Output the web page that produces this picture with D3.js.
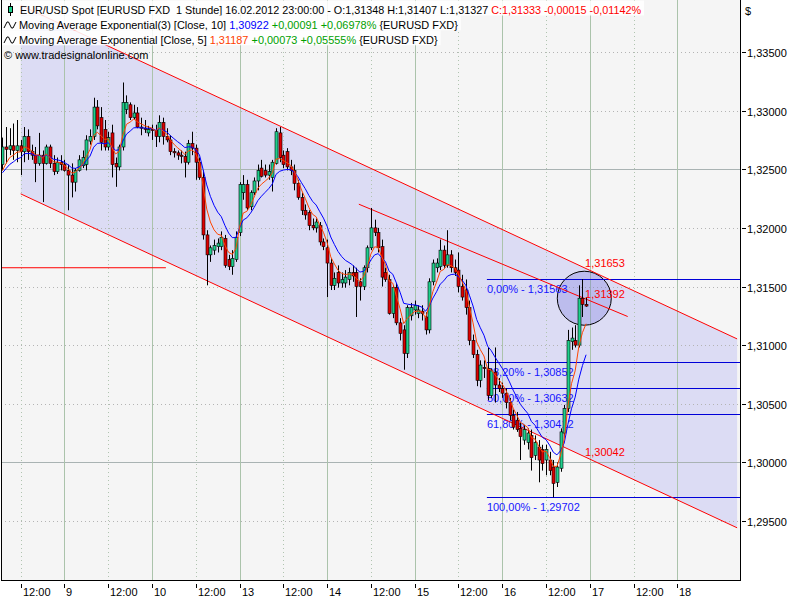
<!DOCTYPE html>
<html><head><meta charset="utf-8">
<script src="https://cdn.jsdelivr.net/npm/d3@7/dist/d3.min.js"></script>
<style>
html,body{margin:0;padding:0;background:#fff;}
svg{display:block;}
svg text{font-family:"Liberation Sans",Arial,sans-serif;font-size:11px;white-space:pre;}
</style></head><body>
<svg id="chart" width="800" height="600"></svg>
<script>
// ---------- DATA ----------
// hourly bars; bar k is at trading hour (firstHour + k), hour 0 = 08.02.2012 00:00
const firstHour = 7;
const open = [
 1.3254,1.3269,1.3267,1.3270,1.3266,1.3270,1.3265,1.3278,1.3265,1.3262,1.3255,1.3262,1.3255,1.3269,1.3255,1.3248,1.3256,
 1.3254,1.3249,1.3245,1.3239,1.3249,1.3253,1.3254,1.3274,1.3278,1.3303,1.3294,1.3284,1.3269,1.3281,1.3255,1.3252,1.3269,1.3301,1.3305,1.3294,1.3298,1.3286,1.3285,1.3281,
 1.3284,1.3283,1.3278,1.3290,1.3278,1.3275,1.3265,1.3264,1.3262,1.3261,1.3256,1.3272,1.3268,1.3256,1.3243,1.3194,1.3177,1.3181,1.3184,1.3184,1.3191,1.3173,1.3167,1.3173,
 1.3196,1.3230,1.3237,1.3218,1.3230,1.3240,1.3251,1.3249,1.3245,1.3243,1.3255,1.3281,1.3262,1.3265,1.3252,1.3249,1.3238,1.3226,1.3215,1.3213,1.3202,1.3200,1.3202,1.3188,
 1.3183,1.3170,1.3151,1.3162,1.3153,1.3153,1.3156,1.3162,1.3162,1.3154,1.3150,1.3166,1.3183,1.3200,1.3196,1.3184,1.3162,1.3156,1.3127,1.3149,1.3119,1.3113,1.3093,1.3125,
 1.3130,1.3127,1.3129,1.3124,1.3113,1.3154,1.3166,1.3167,1.3181,1.3168,1.3177,1.3166,1.3164,1.3150,1.3147,1.3132,1.3104,1.3092,1.3070,1.3081,1.3080,1.3057,1.3077,1.3066,
 1.3063,1.3059,1.3051,1.3040,1.3036,1.3029,1.3019,1.3017,1.3023,1.3006,1.3013,1.3011,1.3002,1.3002,1.2996,1.2983,1.2995,1.3025,1.3046,1.3103,1.3104,1.3100,1.3140,1.31348
];
const high = [
 1.3277,1.3286,1.3285,1.3289,1.3292,1.3275,1.3286,1.3284,1.3271,1.3269,1.3281,1.3266,1.3271,1.3271,1.3262,1.3260,1.3262,
 1.3258,1.3254,1.3255,1.3251,1.3262,1.3266,1.3279,1.3284,1.3311,1.3309,1.3303,1.3292,1.3282,1.3288,1.3260,1.3271,1.3324,1.3313,1.3307,1.3305,1.3303,1.3294,1.3292,1.3287,
 1.3288,1.3288,1.3296,1.3294,1.3285,1.3279,1.3268,1.3266,1.3266,1.3265,1.3275,1.3282,1.3271,1.3260,1.3249,1.3198,1.3185,1.3190,1.3191,1.3197,1.3194,1.3177,1.3181,1.3197,
 1.3239,1.3245,1.3241,1.3232,1.3243,1.3254,1.3258,1.3254,1.3254,1.3258,1.3285,1.3286,1.3266,1.3268,1.3258,1.3254,1.3241,1.3230,1.3220,1.3215,1.3208,1.3208,1.3205,1.3191,
 1.3190,1.3174,1.3162,1.3168,1.3162,1.3164,1.3166,1.3168,1.3166,1.3157,1.3168,1.3185,1.3217,1.3207,1.3200,1.3190,1.3166,1.3160,1.3151,1.3153,1.3123,1.3117,1.3134,1.3136,
 1.3138,1.3134,1.3134,1.3128,1.3157,1.3173,1.3174,1.3190,1.3185,1.3198,1.3181,1.3173,1.3179,1.3160,1.3156,1.3138,1.3109,1.3096,1.3087,1.3087,1.3098,1.3080,1.3098,1.3072,
 1.3068,1.3063,1.3055,1.3045,1.3043,1.3034,1.3032,1.3029,1.3028,1.3023,1.3019,1.3015,1.3015,1.3009,1.3002,1.3000,1.3029,1.3049,1.3113,1.3115,1.3117,1.3151,1.31563,1.31407
];
const low = [
 1.3249,1.3255,1.3262,1.3258,1.3256,1.3245,1.3256,1.3258,1.3258,1.3239,1.3253,1.3222,1.3254,1.3251,1.3245,1.3246,1.3249,
 1.3248,1.3215,1.3226,1.3231,1.3248,1.3251,1.3249,1.3271,1.3275,1.3284,1.3266,1.3266,1.3266,1.3243,1.3235,1.3249,1.3266,1.3297,1.3292,1.3292,1.3285,1.3279,1.3281,1.3278,
 1.3275,1.3269,1.3273,1.3271,1.3273,1.3262,1.3260,1.3258,1.3255,1.3243,1.3254,1.3262,1.3241,1.3241,1.3190,1.3151,1.3171,1.3177,1.3179,1.3181,1.3166,1.3164,1.3160,1.3171,
 1.3193,1.3224,1.3215,1.3215,1.3228,1.3232,1.3243,1.3243,1.3241,1.3231,1.3254,1.3256,1.3251,1.3249,1.3245,1.3232,1.3224,1.3211,1.3207,1.3198,1.3198,1.3196,1.3185,1.3181,
 1.3141,1.3147,1.3147,1.3149,1.3149,1.3149,1.3151,1.3154,1.3124,1.3138,1.3147,1.3162,1.3181,1.3193,1.3179,1.3150,1.3154,1.3126,1.3123,1.3117,1.3104,1.3079,1.3089,1.3121,
 1.3126,1.3123,1.3121,1.3109,1.3110,1.3151,1.3162,1.3164,1.3166,1.3166,1.3162,1.3159,1.3145,1.3138,1.3126,1.3100,1.3089,1.3065,1.3064,1.3072,1.3053,1.3055,1.3051,1.3060,
 1.3055,1.3046,1.3036,1.3028,1.3026,1.3002,1.3015,1.3011,1.2993,1.3002,1.2983,1.2993,1.2989,1.2989,1.29702,1.2979,1.2992,1.3021,1.3043,1.3096,1.3098,1.3098,1.3124,1.31327
];
const close = [
 1.3269,1.3267,1.3270,1.3266,1.3270,1.3265,1.3278,1.3265,1.3262,1.3255,1.3262,1.3255,1.3269,1.3255,1.3248,1.3256,1.3254,
 1.3249,1.3245,1.3239,1.3249,1.3258,1.3260,1.3275,1.3278,1.3303,1.3287,1.3273,1.3269,1.3277,1.3254,1.3252,1.3269,1.3307,1.3307,1.3294,1.3298,1.3286,1.3285,1.3284,1.3284,
 1.3283,1.3278,1.3290,1.3278,1.3275,1.3265,1.3264,1.3262,1.3261,1.3256,1.3272,1.3268,1.3256,1.3243,1.3194,1.3177,1.3183,1.3185,1.3187,1.3192,1.3168,1.3167,1.3174,1.3192,
 1.3237,1.3237,1.3217,1.3230,1.3240,1.3249,1.3244,1.3245,1.3248,1.3256,1.3282,1.3260,1.3254,1.3252,1.3249,1.3238,1.3226,1.3215,1.3211,1.3202,1.3200,1.3205,1.3188,1.3184,
 1.3170,1.3151,1.3157,1.3153,1.3156,1.3158,1.3162,1.3159,1.3150,1.3150,1.3166,1.3183,1.3200,1.3196,1.3183,1.3158,1.3156,1.3127,1.3149,1.3119,1.3110,1.3093,1.3132,1.3132,
 1.3134,1.3130,1.3127,1.3113,1.3154,1.3170,1.3170,1.3181,1.3168,1.3177,1.3166,1.3162,1.3150,1.3141,1.3132,1.3104,1.3092,1.3070,1.3083,1.3080,1.3057,1.3078,1.3066,1.3063,
 1.3059,1.3051,1.3040,1.3030,1.3028,1.3022,1.3028,1.3025,1.3004,1.3017,1.3002,1.2999,1.3011,1.2993,1.2982,1.2996,1.3026,1.3046,1.3104,1.3106,1.3100,1.3140,1.31348,1.31333
];
// EMA starting values read at the first visible bar
const ema10Start = 1.3247;
const ema5Start = 1.3249;

const timeTicks = [12,24,36,48,60,72,84,96,108,120,132,144,156,168,180,192];
const timeTickLabels = ["12:00","9","12:00","10","12:00","13","12:00","14","12:00","15","12:00","16","12:00","17","12:00","18"];
const priceTicks = [1.295,1.300,1.305,1.310,1.315,1.320,1.325,1.330,1.335];
const priceTickLabels = ["1,29500","1,30000","1,30500","1,31000","1,31500","1,32000","1,32500","1,33000","1,33500"];
const solidPriceGrid = [1.300,1.325];

const channelUpper = [[12,1.33898],[208.4,1.31053]];
const channelLower = [[12,1.32290],[208.4,1.29442]];
const innerLine = [[104.7,1.32202],[178.4,1.31244]];
const leftLine = [[6.8,1.3166],[51.8,1.3166]];
const fibStart = 139.8;
const fibLevels = [1.31563,1.30852,1.30632,1.30412,1.29702];
const fibLabels = ["0,00% - 1,31563","38,20% - 1,30852","50,00% - 1,30632","61,80% - 1,30412","100,00% - 1,29702"];
const valueLabelHours = [167,167,167];
const valueLabelPrices = [1.31653,1.31392,1.30042];
const valueLabelTexts = ["1,31653","1,31392","1,30042"];
const circleAt = [166.5,1.3140];

const legendRow1 = [["EUR/USD Spot [EURUSD FXD  1 Stunde] 16.02.2012 23:00:00 - O:1,31348 H:1,31407 L:1,31327 ","#000000"],["C:1,31333 -0,00015 -0,01142%","#ff0000"]];
const legendRow2 = [["Moving Average Exponential(3) [Close, 10] ","#000000"],["1,30922","#0000ff"],[" +0,00091 +0,06978%","#00a000"],[" {EURUSD FXD}","#000000"]];
const legendRow3 = [["Moving Average Exponential [Close, 5] ","#000000"],["1,31187","#ff4000"],[" +0,00073 +0,05555%","#00a000"],[" {EURUSD FXD}","#000000"]];
const legendRow4 = "\u00a9 www.tradesignalonline.com";

// ---------- CHART ----------
const svg = d3.select("#chart");
const L = 1, R = 740, T = 0, B = 580;
const x = d3.scaleLinear().domain([12,192]).range([20.7,677.3]);
const y = d3.scaleLinear().domain([1.295,1.335]).range([521,52]);

svg.append("rect").attr("width",800).attr("height",600).attr("fill","#ffffff");
svg.append("defs").append("clipPath").attr("id","plotclip")
  .append("rect").attr("x",L+1).attr("y",T).attr("width",R-L-1).attr("height",B-T);
svg.append("rect").attr("x",L).attr("y",T).attr("width",R-L).attr("height",B-T).attr("fill","#f5f5f5");

const plot = svg.append("g").attr("clip-path","url(#plotclip)");

// channel fill
const chanPts = [channelUpper[0],channelUpper[1],channelLower[1],channelLower[0]];
plot.append("path")
  .attr("d", "M" + chanPts.map(p=>[x(p[0]),y(p[1])].join(",")).join("L") + "Z")
  .attr("fill","#dcdcf4");

// grid
priceTicks.forEach(p=>{
  const solid = solidPriceGrid.some(s=>Math.abs(s-p)<1e-9);
  const yy = Math.round(y(p))+0.5;
  plot.append("line").attr("x1",L).attr("x2",R).attr("y1",yy).attr("y2",yy)
    .attr("stroke", solid ? "#a9b3b3" : "#b4b4b4")
    .attr("stroke-dasharray", solid ? null : "1,3");
});
timeTicks.forEach((h,k)=>{
  const day = timeTickLabels[k] !== "12:00";
  const xx = Math.round(x(h))+0.5;
  plot.append("line").attr("x1",xx).attr("x2",xx).attr("y1",T).attr("y2",B)
    .attr("stroke", day ? "#abc3ab" : "#b0c4b0")
    .attr("stroke-dasharray", day ? null : "1,3");
});

// circle
plot.append("circle").attr("cx",x(circleAt[0])).attr("cy",y(circleAt[1])).attr("r",27)
  .attr("fill","rgba(90,90,215,0.25)").attr("stroke","#000").attr("stroke-width",1);

// fibonacci
fibLevels.forEach((p,k)=>{
  const yy = Math.round(y(p))+0.5;
  plot.append("line").attr("x1",x(fibStart)).attr("x2",R).attr("y1",yy).attr("y2",yy)
    .attr("stroke","#0000d8").attr("stroke-width",1.2);
  plot.append("text").attr("x",x(fibStart)).attr("y",yy+13).attr("fill","#1515ff").text(fibLabels[k]);
});

// red lines
const seg = (pts)=> "M"+pts.map(p=>[x(p[0]),y(p[1])].join(",")).join("L");
[channelUpper,channelLower,innerLine,leftLine].forEach(pts=>{
  plot.append("path").attr("d",seg(pts)).attr("fill","none").attr("stroke","#ff0000").attr("stroke-width",1);
});

// candles
const bars = close.map((c,k)=>({h:firstHour+k,o:open[k],hi:high[k],lo:low[k],c:c}));
const cg = plot.append("g");
bars.forEach(b=>{
  const px = Math.round(x(b.h))+0.5;
  cg.append("line").attr("x1",px).attr("x2",px).attr("y1",y(b.hi)).attr("y2",y(b.lo))
    .attr("stroke","#000").attr("stroke-width",1);
  const y1 = y(Math.max(b.o,b.c)), y2 = y(Math.min(b.o,b.c));
  cg.append("rect").attr("x",px-1.5).attr("y",y1).attr("width",3).attr("height",Math.max(1,y2-y1))
    .attr("fill", b.c>=b.o ? "#1fcf8c" : "#dd0000")
    .attr("stroke","#000").attr("stroke-width",0.6);
});

// EMAs
function ema(vals, start, n){
  const a = 2/(n+1); let e = start;
  return vals.map((v,k)=>{ if(k>0) e = e + a*(v-e); return e; });
}
const ema10 = ema(close, ema10Start, 10);
const ema5 = ema(close, ema5Start, 5);
const ln = d3.line().x((d,k)=>x(firstHour+k)).y(d=>y(d));
plot.append("path").attr("d",ln(ema10)).attr("fill","none").attr("stroke","#0000ff").attr("stroke-width",1);
plot.append("path").attr("d",ln(ema5)).attr("fill","none").attr("stroke","#ff4500").attr("stroke-width",1);

// value labels
valueLabelTexts.forEach((t,k)=>{
  plot.append("text").attr("x",x(valueLabelHours[k])-1).attr("y",y(valueLabelPrices[k])-1.5)
    .attr("fill","#ff0000").text(t);
});

// legend
function legendRow(parts, yBase, xStart, bg, fs){
  const g = svg.append("g");
  const r = bg ? g.append("rect") : null;
  const t = g.append("text").attr("x",xStart).attr("y",yBase).style("font-size",fs+"px");
  parts.forEach(p=>t.append("tspan").attr("fill",p[1]).text(p[0]));
  if(bg){
    const w = t.node().getComputedTextLength();
    r.attr("x",L+1).attr("y",yBase-13.5).attr("width",xStart+w+3-(L+1)).attr("height",15)
     .attr("fill","#ffffff").attr("fill-opacity",0.88);
  }
  return g;
}
legendRow(legendRow1, 14, 20, true, 10.8);
legendRow(legendRow2, 28.8, 19, true, 10.95);
legendRow(legendRow3, 43.8, 19, true, 10.95);
svg.append("text").attr("x",4).attr("y",58.8).attr("fill","#000").text(legendRow4);
// legend icons
svg.append("line").attr("x1",10.5).attr("x2",10.5).attr("y1",3).attr("y2",16).attr("stroke","#000");
svg.append("rect").attr("x",8.5).attr("y",6.5).attr("width",4).attr("height",6).attr("fill","#1fcf8c").attr("stroke","#000");
[0,15].forEach(dy=>{
  svg.append("path").attr("d",`M4,${28+dy} L7,${22+dy} L8.5,${22+dy} L11.5,${28+dy} L13,${28+dy} L16,${22+dy}`)
    .attr("fill","none").attr("stroke","#000").attr("stroke-width",1);
});

// frame
svg.append("line").attr("x1",L+0.5).attr("x2",L+0.5).attr("y1",T).attr("y2",B+0.5).attr("stroke","#000");
svg.append("line").attr("x1",R+0.5).attr("x2",R+0.5).attr("y1",T).attr("y2",B+0.5).attr("stroke","#000");
svg.append("line").attr("x1",L).attr("x2",R+1).attr("y1",B+0.5).attr("y2",B+0.5).attr("stroke","#000");

// right axis
priceTicks.forEach((p,k)=>{
  const yy = Math.round(y(p))+0.5;
  svg.append("line").attr("x1",R+2).attr("x2",R+6).attr("y1",yy).attr("y2",yy).attr("stroke","#000");
  svg.append("text").attr("x",R+7).attr("y",yy+4).attr("fill","#000").text(priceTickLabels[k]);
});
svg.append("text").attr("x",745).attr("y",15).attr("fill","#000").text("$");

// bottom axis
timeTicks.forEach((h,k)=>{
  const xx = Math.round(x(h))+0.5;
  svg.append("line").attr("x1",xx).attr("x2",xx).attr("y1",584).attr("y2",588).attr("stroke","#000");
  svg.append("text").attr("x",xx+1.5).attr("y",596).attr("fill","#000").text(timeTickLabels[k]);
});
</script>
</body></html>
